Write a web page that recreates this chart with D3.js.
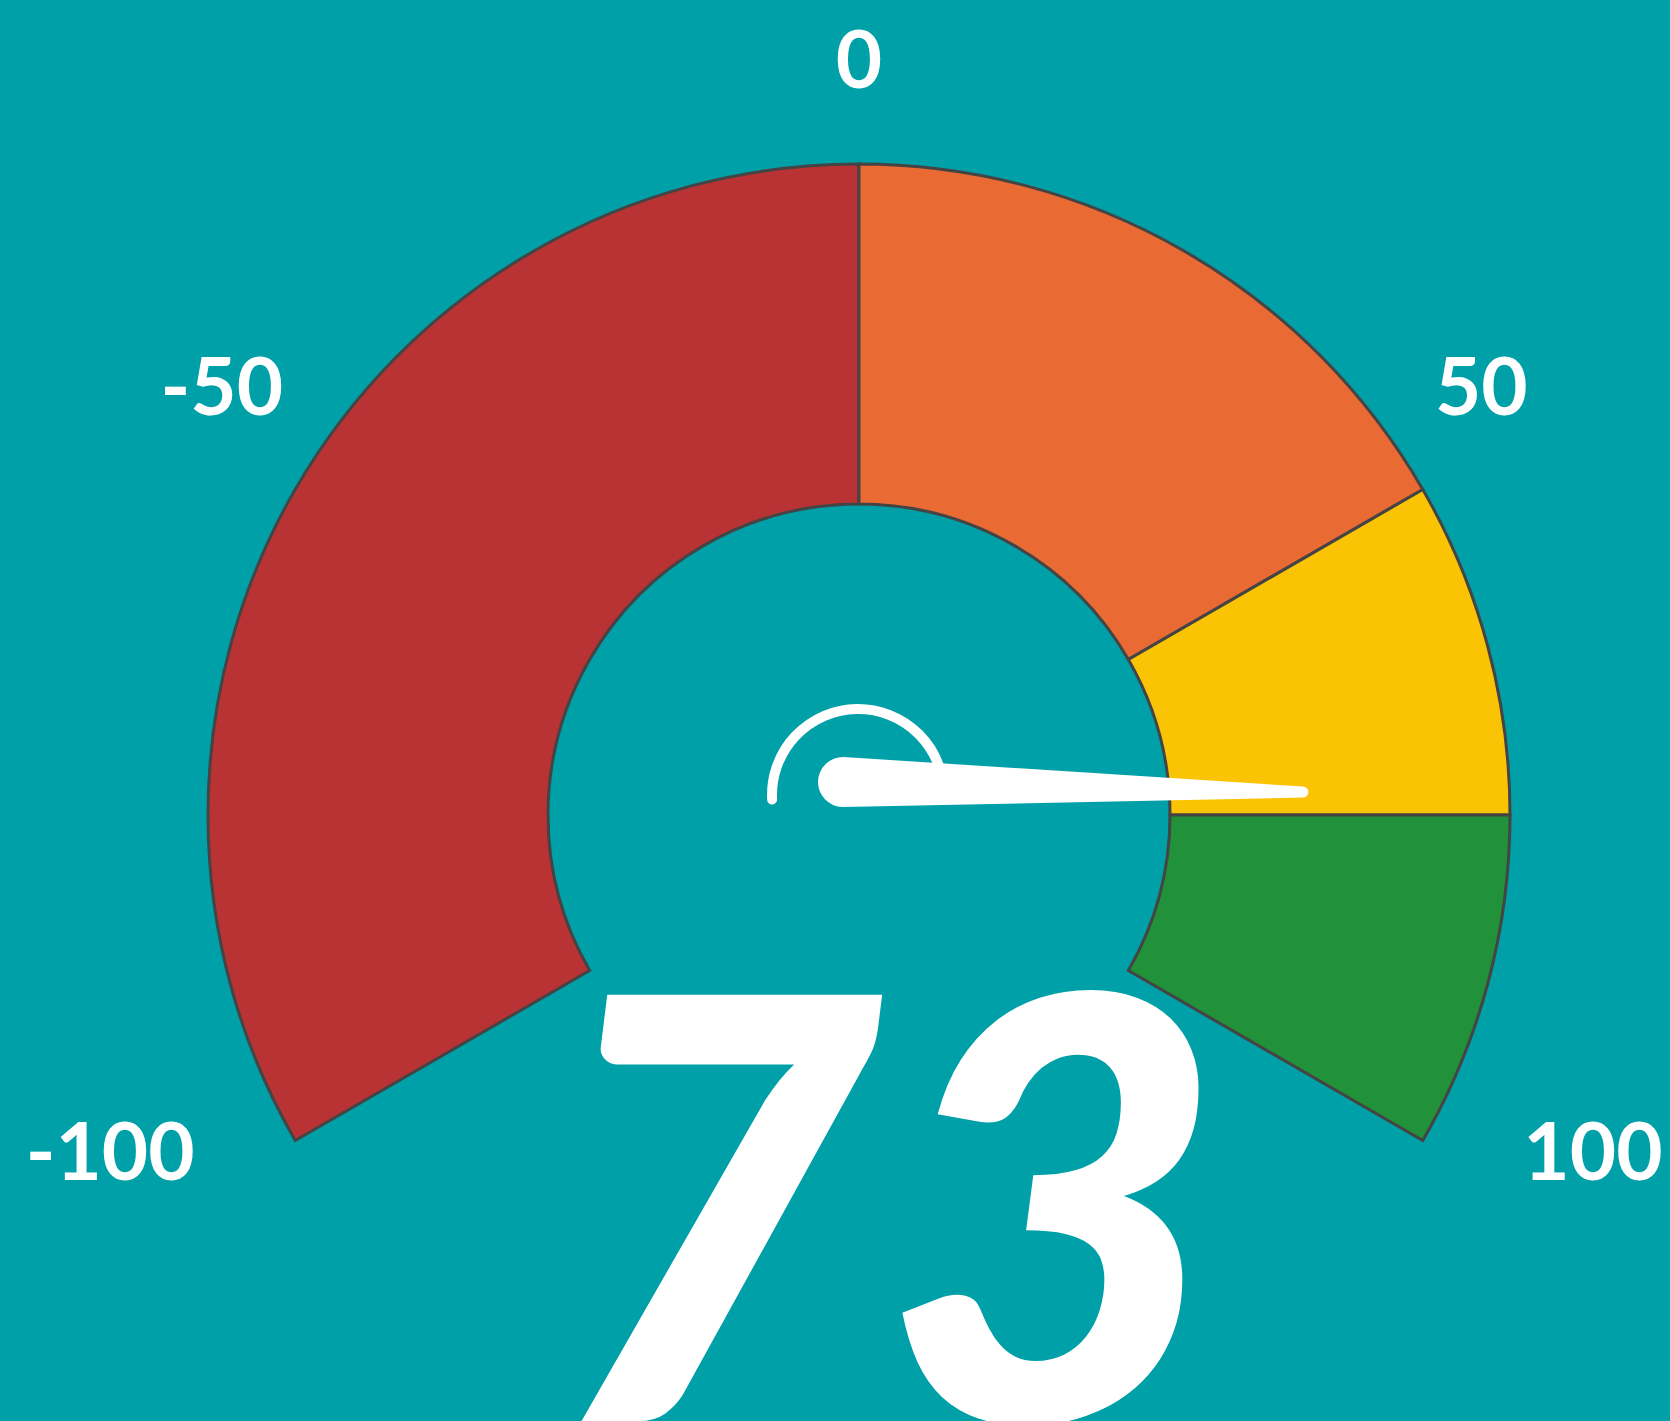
<!DOCTYPE html>
<html>
<head>
<meta charset="utf-8">
<script src="https://cdn.jsdelivr.net/npm/d3@7"></script>
<style>
  html,body{margin:0;padding:0;background:#00a0a8;overflow:hidden;}
  svg{display:block;}
</style>
</head>
<body>
<svg id="gauge"></svg>
<script>

// gauge data
let bandStarts=[-100,0,50,75];
let bandEnds=[0,50,75,100];
let bandColors=['#b93335','#ea6a33','#fac404','#21913a'];
let tickValues=[-100,-50,0,50,100];
let tickLabels=['-100','-50','0','50','100'];
let value=73;

let w=1670;
let h=1421;
let cx=859;
let cy=815;
let rOuter=651;
let rInner=311;

let svg=d3.select('#gauge')
    .attr('width',w)
    .attr('height',h)
    .attr('viewBox',`0 0 ${w} ${h}`);

svg.append('rect')
    .attr('width',w)
    .attr('height',h)
    .attr('fill','#00a0a8');

// value -> angle (degrees, 0 = up, clockwise)
let angle=d3.scaleLinear().domain([-100,100]).range([-120,120]);
let needleAngle=d3.scaleLinear().domain([-100,100]).range([-125,125]);
let labelAngle=d3.scaleLinear().domain([0,50,100]).range([0,55.4,114.6]);

let rad=d=>d*Math.PI/180;

let arc=d3.arc()
    .innerRadius(rInner)
    .outerRadius(rOuter);

let bands=bandStarts.map((s,i)=>({start:s,end:bandEnds[i],color:bandColors[i]}));

let g=svg.append('g').attr('transform',`translate(${cx},${cy})`);

g.selectAll('path.band')
    .data(bands)
    .join('path')
    .attr('class','band')
    .attr('d',d=>arc({startAngle:rad(angle(d.start)),endAngle:rad(angle(d.end))}))
    .attr('fill',d=>d.color)
    .attr('stroke','#444')
    .attr('stroke-width',3)
    .attr('stroke-linejoin','miter');

// tick labels: the digits sit symmetric, a minus sign hangs off to the left
function labelPos(d){
    let a=rad(Math.sign(d)*labelAngle(Math.abs(d)));
    let r=756+123*Math.max(0,-Math.cos(a));
    return [r*Math.sin(a),-r*Math.cos(a)];
}

let ticks=g.selectAll('text.tick')
    .data(tickValues)
    .join('text')
    .attr('class','tick')
    .attr('y',d=>labelPos(d)[1])
    .attr('dy','0.36em')
    .attr('text-anchor','end')
    .attr('font-family','Lato, "Open Sans", sans-serif')
    .attr('font-weight',700)
    .attr('font-size',80)
    .attr('fill','#fff')
    .text((d,i)=>tickLabels[i]);

// measure the unsigned part to centre it
let probe=g.append('text')
    .attr('font-family','Lato, "Open Sans", sans-serif')
    .attr('font-weight',700)
    .attr('font-size',80);
ticks.attr('x',function(d,i){
    probe.text(tickLabels[i].replace('-',''));
    let wd=probe.node().getComputedTextLength();
    return labelPos(d)[0]+wd/2;
});
probe.remove();

// small ring behind the needle
let ringX=858, ringY=795;
let ring=d3.path();
ring.arc(0,0,86,rad(-93-90),rad(needleAngle(value)-90),false);

svg.append('path')
    .attr('transform',`translate(${ringX},${ringY})`)
    .attr('d',ring.toString())
    .attr('fill','none')
    .attr('stroke','#fff')
    .attr('stroke-width',10)
    .attr('stroke-linecap','round');

// needle
let px=843, py=782;
let needleLen=460;
let needleG=svg.append('g').attr('transform',`translate(${px},${py})`);

let p=d3.path();
p.moveTo(0,-25);
p.lineTo(needleLen,-5.5);
p.arc(needleLen,0,5.5,-Math.PI/2,Math.PI/2);
p.lineTo(0,25);
p.arc(0,0,25,Math.PI/2,Math.PI*1.5);
p.closePath();

needleG.append('path')
    .attr('d',p.toString())
    .attr('transform',`rotate(${needleAngle(value)-90})`)
    .attr('fill','#fff');

// big value
svg.append('text')
    .attr('x',cx+24)
    .attr('y',1421)
    .attr('text-anchor','middle')
    .attr('font-family','Lato, "Open Sans", sans-serif')
    .attr('font-weight',900)
    .attr('font-style','italic')
    .attr('font-size',588)
    .attr('fill','#fff')
    .text(value);

</script>
</body>
</html>
